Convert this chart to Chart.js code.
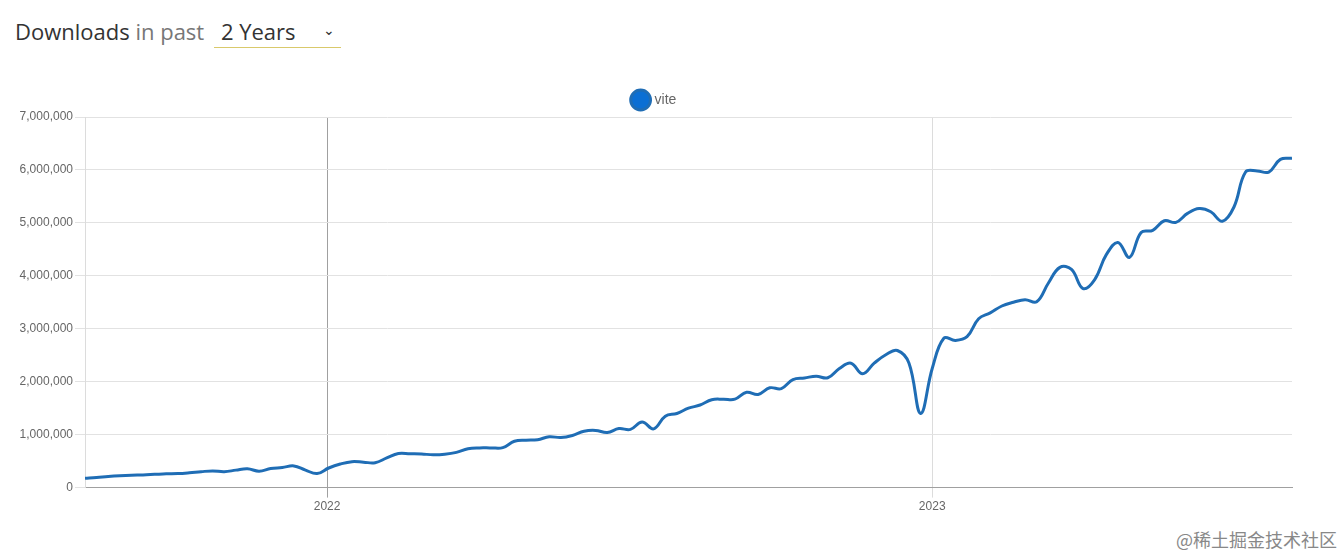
<!DOCTYPE html>
<html>
<head>
<meta charset="utf-8">
<script src="https://cdn.jsdelivr.net/npm/chart.js@4.4.1/dist/chart.umd.min.js"></script>
<style>
  body { margin: 0; background: #fff; width: 1344px; height: 556px; overflow: hidden; position: relative; font-family: 'Open Sans', 'Noto Sans', sans-serif; }
  .head { position: absolute; left: 15px; top: 15px; font-size: 22px; color: #333; white-space: nowrap; }
  .head .muted { color: #777; }
  .sel { display: inline-block; position: relative; width: 120px; margin-left: 4px; padding-left: 7px; border-bottom: 1px solid #d9c96b; line-height: 32px; }
  .sel .chev { position: absolute; right: 6px; top: -1px; font-size: 14px; color: #333; }
  .wrap { position: absolute; left: 0; top: 83px; width: 1344px; height: 433px; }
  .mark { position: absolute; right: 7px; top: 526px; font-size: 18px; color: #888; font-family: 'Noto Sans CJK SC', sans-serif; }
</style>
</head>
<body>
<div class="head">Downloads <span class="muted">in past</span> <span class="sel">2 Years<span class="chev">&#8964;</span></span></div>
<div class="wrap"><canvas id="c"></canvas></div>
<div class="mark">@稀土掘金技术社区</div>
<script>
// weekly npm downloads, first week starting 2021-08-08
const startDate = '2021-08-08';
const packageName = 'vite';
const downloads = [
  175000, 190000, 210000, 225000, 235000, 240000, 250000, 260000, 265000, 280000,
  300000, 315000, 300000, 330000, 355000, 310000, 360000, 380000, 410000, 330000,
  265000, 370000, 445000, 490000, 480000, 470000, 560000, 645000, 640000, 635000,
  620000, 630000, 665000, 735000, 750000, 750000, 755000, 875000, 895000, 905000,
  960000, 945000, 985000, 1065000, 1080000, 1040000, 1115000, 1100000, 1240000, 1110000,
  1350000, 1400000, 1500000, 1560000, 1660000, 1670000, 1670000, 1800000, 1760000, 1885000,
  1870000, 2040000, 2070000, 2105000, 2075000, 2250000, 2350000, 2150000, 2350000, 2510000,
  2590000, 2350000, 1400000, 2250000, 2820000, 2780000, 2850000, 3190000, 3300000, 3430000,
  3500000, 3550000, 3510000, 3860000, 4160000, 4120000, 3760000, 3930000, 4400000, 4630000,
  4350000, 4820000, 4860000, 5040000, 5010000, 5180000, 5270000, 5210000, 5030000, 5300000,
  5960000, 5980000, 5960000, 6200000, 6220000
];
const yearTicks = ['2022-01-01', '2023-01-01'];
const yearLabels = ['2022', '2023'];

const DAY = 86400000;
const dayOf = d => Math.round((Date.parse(d) - Date.parse(startDate)) / DAY);
const tickDays = yearTicks.map(dayOf);
const points = downloads.map((v, i) => ({ x: i * 7, y: v }));

new Chart(document.getElementById('c'), {
  type: 'line',
  data: {
    datasets: [{
      label: packageName,
      data: points,
      borderColor: '#1f6db5',
      backgroundColor: '#0b6fd4',
      borderWidth: 3,
      pointRadius: 0,
      tension: 0.4,
      fill: false
    }]
  },
  options: {
    responsive: true,
    maintainAspectRatio: false,
    animation: false,
    layout: { padding: { left: 18, right: 52 } },
    plugins: {
      tooltip: { enabled: false },
      legend: {
        position: 'top',
        labels: {
          usePointStyle: true,
          pointStyle: 'circle',
          color: '#666',
          padding: 10,
          font: { family: "'Liberation Sans', Arial, sans-serif", size: 14 }
        }
      }
    },
    scales: {
      x: {
        type: 'linear',
        min: 0,
        max: (downloads.length - 1) * 7,
        afterBuildTicks: s => { s.ticks = tickDays.map(v => ({ value: v })); },
        ticks: {
          autoSkip: false,
          maxRotation: 0,
          color: '#666',
          padding: 2,
          font: { family: "'Liberation Sans', Arial, sans-serif", size: 12 },
          callback: v => yearLabels[tickDays.indexOf(v)] || ''
        },
        grid: {
          color: ctx => ctx.index === 0 ? '#a0a0a0' : '#dcdcdc',
          tickLength: 10
        },
        border: { color: '#a0a0a0' }
      },
      y: {
        min: 0,
        max: 7000000,
        afterFit: s => { s.width = 67; },
        ticks: {
          stepSize: 1000000,
          color: '#666',
          padding: 2,
          font: { family: "'Liberation Sans', Arial, sans-serif", size: 12 },
          callback: v => v.toLocaleString('en-US')
        },
        grid: { color: '#e2e2e2', tickLength: 10 },
        border: { color: '#dcdcdc' }
      }
    }
  }
});
</script>
</body>
</html>
